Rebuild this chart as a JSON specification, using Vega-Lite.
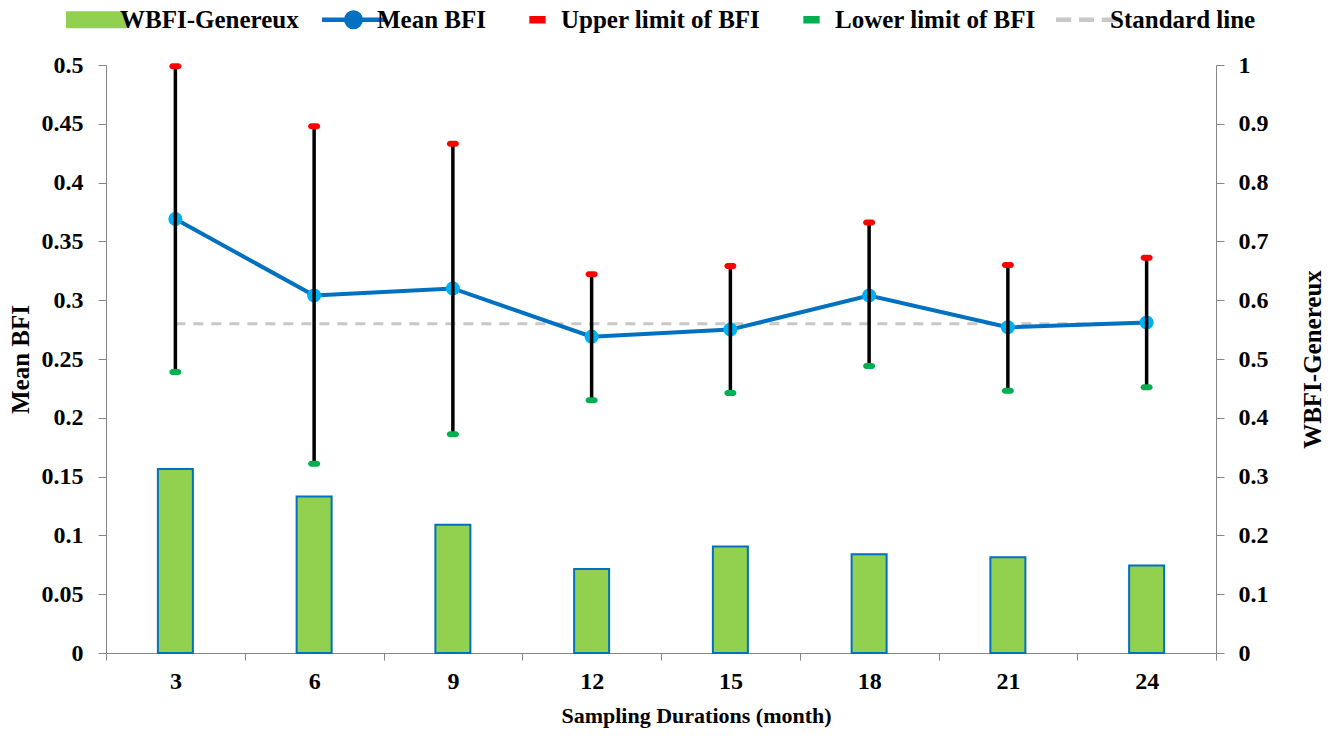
{
  "$schema": "https://vega.github.io/schema/vega-lite/v6.json",
  "width": 1110,
  "height": 588,
  "autosize": "none",
  "padding": {"left": 106, "top": 65, "right": 114, "bottom": 88},
  "background": "white",
  "config": {
    "view": {"stroke": null},
    "axis": {
      "labelFont": "Liberation Serif",
      "titleFont": "Liberation Serif",
      "labelFontWeight": "bold",
      "titleFontWeight": "bold",
      "labelColor": "black",
      "titleColor": "black",
      "domainColor": "#868686",
      "tickColor": "#868686",
      "grid": false,
      "labelFontSize": 24,
      "titleFontSize": 25,
      "tickSize": 8
    },
    "legend": {
      "orient": "none",
      "legendX": -22,
      "legendY": -58,
      "direction": "horizontal",
      "title": null,
      "symbolSize": 4600,
      "labelFont": "Liberation Serif",
      "labelFontSize": 25,
      "labelFontWeight": "bold",
      "labelColor": "black",
      "labelLimit": 400,
      "labelOffset": 11,
      "columnPadding": 16
    }
  },
  "data": {
    "values": [
      {"m": 3, "wbfi": 0.313, "mean": 0.369, "upper": 0.499, "lower": 0.239, "std": 0.28},
      {"m": 6, "wbfi": 0.266, "mean": 0.304, "upper": 0.448, "lower": 0.161, "std": 0.28},
      {"m": 9, "wbfi": 0.218, "mean": 0.310, "upper": 0.433, "lower": 0.186, "std": 0.28},
      {"m": 12, "wbfi": 0.143, "mean": 0.269, "upper": 0.322, "lower": 0.215, "std": 0.28},
      {"m": 15, "wbfi": 0.181, "mean": 0.275, "upper": 0.329, "lower": 0.221, "std": 0.28},
      {"m": 18, "wbfi": 0.168, "mean": 0.304, "upper": 0.366, "lower": 0.244, "std": 0.28},
      {"m": 21, "wbfi": 0.163, "mean": 0.277, "upper": 0.330, "lower": 0.223, "std": 0.28},
      {"m": 24, "wbfi": 0.149, "mean": 0.281, "upper": 0.336, "lower": 0.226, "std": 0.28}
    ]
  },
  "encoding": {
    "x": {
      "field": "m",
      "type": "ordinal",
      "scale": {"paddingInner": 0, "paddingOuter": 0},
      "axis": {
        "title": "Sampling Durations (month)",
        "titleFontSize": 22,
        "labelAngle": 0,
        "tickBand": "extent",
        "tickSize": 7,
        "labelPadding": 9,
        "titlePadding": 12,
        "titleX": 590
      }
    },
    "color": {
      "datum": "WBFI-Genereux",
      "scale": {
        "domain": ["WBFI-Genereux", "Mean BFI", "Upper limit of BFI", "Lower limit of BFI", "Standard line"],
        "range": ["#92D050", "#0070C0", "#FF0000", "#00B050", "#C8C8C8"]
      },
      "legend": {
        "encode": {
          "symbols": {
            "update": {
              "shape": {"signal": "datum.value === 'WBFI-Genereux' ? 'M-1,0L-1,0Z M1,0L1,0Z M-0.87,-0.22H0.87V0.22H-0.87Z' : datum.value === 'Mean BFI' ? 'M-1,0L-1,0Z M1,0L1,0Z M-0.9,-0.04H-0.24V0.04H-0.9Z M0.24,-0.04H0.9V0.04H0.24Z M0.25,0A0.25,0.25 0 1,1 -0.25,0A0.25,0.25 0 1,1 0.25,0Z' : datum.value === 'Standard line' ? 'M-1,0L-1,0Z M1,0L1,0Z M-0.9,-0.07H-0.45V0.07H-0.9Z M-0.22,-0.07H0.22V0.07H-0.22Z M0.45,-0.07H0.9V0.07H0.45Z' : 'M-1,0L-1,0Z M1,0L1,0Z M-0.24,-0.11H0.24V0.11H-0.24Z'"},
              "fill": {"signal": "datum.value === 'WBFI-Genereux' ? '#92D050' : datum.value === 'Mean BFI' ? '#00B0F0' : datum.value === 'Upper limit of BFI' ? '#FF0000' : datum.value === 'Lower limit of BFI' ? '#00B050' : '#C8C8C8'"},
              "stroke": {"signal": "datum.value === 'WBFI-Genereux' || datum.value === 'Mean BFI' ? '#0070C0' : 'transparent'"},
              "strokeWidth": {"signal": "datum.value === 'WBFI-Genereux' || datum.value === 'Mean BFI' ? 2 : 0"},
              "opacity": {"value": 1}
            }
          }
        }
      }
    }
  },
  "layer": [
    {
      "mark": {"type": "bar", "width": 35, "stroke": "#0070C0", "strokeWidth": 2},
      "encoding": {
        "y": {
          "field": "wbfi",
          "type": "quantitative",
          "scale": {"domain": [0, 1]},
          "axis": {
            "orient": "right",
            "title": "WBFI-Genereux",
            "values": [0, 0.1, 0.2, 0.3, 0.4, 0.5, 0.6, 0.7, 0.8, 0.9, 1],
            "labelExpr": "format(datum.value, '~g')",
            "labelPadding": 14,
            "titlePadding": 32,
            "titleAngle": 270,
            "titleBaseline": "top"
          }
        }
      }
    },
    {
      "layer": [
        {
          "mark": {"type": "line", "strokeWidth": 3, "strokeDash": [10, 8]},
          "encoding": {
            "y": {
              "field": "std",
              "type": "quantitative",
              "scale": {"domain": [0, 0.5]},
              "title": "Mean BFI",
              "axis": {
                "orient": "left",
                "title": "Mean BFI",
                "values": [0, 0.05, 0.1, 0.15, 0.2, 0.25, 0.3, 0.35, 0.4, 0.45, 0.5],
                "labelExpr": "format(datum.value, '~g')",
                "labelPadding": 15,
                "titlePadding": 8
              }
            },
            "color": {"datum": "Standard line"}
          }
        },
        {
          "mark": {"type": "line", "strokeWidth": 4},
          "encoding": {
            "y": {"field": "mean", "type": "quantitative", "title": "Mean BFI"},
            "color": {"datum": "Mean BFI"}
          }
        },
        {
          "mark": {"type": "point", "filled": true, "fill": "#00B0F0", "size": 200, "opacity": 1},
          "encoding": {
            "y": {"field": "mean", "type": "quantitative", "title": "Mean BFI"},
            "color": null
          }
        },
        {
          "mark": {"type": "rule", "color": "black", "strokeWidth": 3.5},
          "encoding": {
            "y": {"field": "lower", "type": "quantitative", "title": "Mean BFI"},
            "y2": {"field": "upper"},
            "color": null
          }
        },
        {
          "mark": {"type": "tick", "size": 12, "thickness": 6, "cornerRadius": 3, "opacity": 1},
          "encoding": {
            "y": {"field": "upper", "type": "quantitative", "title": "Mean BFI"},
            "color": {"datum": "Upper limit of BFI"}
          }
        },
        {
          "mark": {"type": "tick", "size": 12, "thickness": 6, "cornerRadius": 3, "opacity": 1},
          "encoding": {
            "y": {"field": "lower", "type": "quantitative", "title": "Mean BFI"},
            "color": {"datum": "Lower limit of BFI"}
          }
        }
      ]
    }
  ],
  "resolve": {"scale": {"y": "independent"}}
}
